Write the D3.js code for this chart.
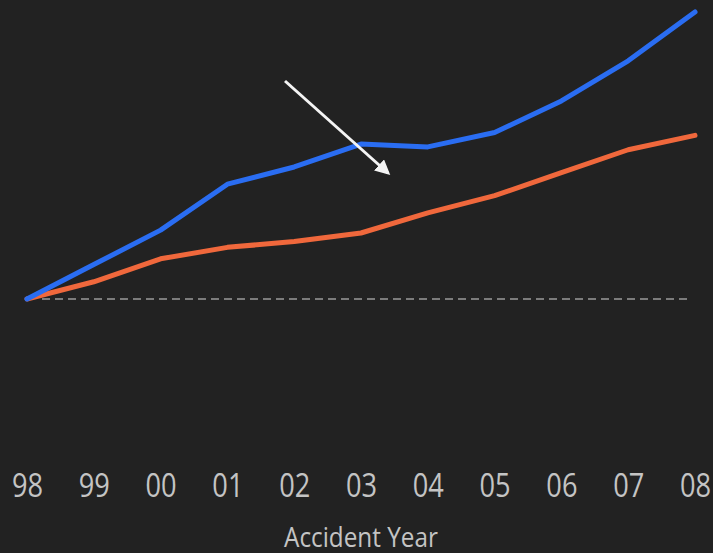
<!DOCTYPE html>
<html>
<head>
<meta charset="utf-8">
<script src="https://cdn.jsdelivr.net/npm/d3@7"></script>
<style>
  html, body { margin: 0; padding: 0; background: #222222; }
  svg { display: block; }
</style>
</head>
<body>
<svg id="chart" width="713" height="553"></svg>
<script>
// Accident years and indexed trends (1998 = 100)
const years = ["98", "99", "00", "01", "02", "03", "04", "05", "06", "07", "08"];
const blueSeries = [100, 112, 124, 140, 146, 154, 153, 158, 169, 183, 200];
const orangeSeries = [100, 106, 114, 118, 120, 123, 130, 136, 144, 152, 157];
const baselineValue = 100;

const svg = d3.select("#chart");
const W = 713, H = 553;

svg.append("rect").attr("width", W).attr("height", H).attr("fill", "#222222");

const x = d3.scalePoint().domain(years).range([27, 695]);
const y = d3.scaleLinear().domain([100, 200]).range([299, 12]);

// Title, sitting above the top edge
const title = svg.append("text")
  .attr("x", 5).attr("y", -5)
  .attr("font-family", "Open Sans, sans-serif")
  .attr("font-size", 22).attr("font-weight", 600);
title.append("tspan").attr("fill", "#f2f2f2").text("Loss per policy and ");
title.append("tspan").attr("x", 305).attr("fill", "#f0754a").text("Change");

// Baseline
svg.append("line")
  .attr("x1", x("98") + 15).attr("x2", 690)
  .attr("y1", y(baselineValue)).attr("y2", y(baselineValue))
  .attr("stroke", "#9a9a9a").attr("stroke-width", 1.5)
  .attr("stroke-dasharray", "8,5");

const line = d3.line()
  .x((d, i) => x(years[i]))
  .y(d => y(d))
  .curve(d3.curveLinear);

svg.append("path").datum(orangeSeries)
  .attr("d", line).attr("fill", "none")
  .attr("stroke", "#f0683c").attr("stroke-width", 5)
  .attr("stroke-linecap", "round").attr("stroke-linejoin", "round");

svg.append("path").datum(blueSeries)
  .attr("d", line).attr("fill", "none")
  .attr("stroke", "#2a6df2").attr("stroke-width", 5)
  .attr("stroke-linecap", "round").attr("stroke-linejoin", "round");

// Arrow annotation
svg.append("defs").append("marker")
  .attr("id", "head").attr("viewBox", "0 0 10 10")
  .attr("refX", 8).attr("refY", 5)
  .attr("markerWidth", 5).attr("markerHeight", 5)
  .attr("orient", "auto")
  .append("path").attr("d", "M0,0 L10,5 L0,10 Z").attr("fill", "#f4f4f4");

svg.append("line")
  .attr("x1", 285).attr("y1", 81).attr("x2", 388).attr("y2", 173)
  .attr("stroke", "#f4f4f4").attr("stroke-width", 3)
  .attr("marker-end", "url(#head)");

// X axis
const xAxis = d3.axisBottom(x).tickSize(0).tickPadding(0);
const gx = svg.append("g").attr("transform", "translate(0,497)").call(xAxis);
gx.select(".domain").remove();
gx.selectAll("text")
  .attr("fill", "#c4c4c4")
  .attr("font-family", "Open Sans, sans-serif")
  .attr("font-size", 32)
  .attr("y", 0)
  .attr("dy", 0)
  .attr("transform", "scale(0.85,1)");

svg.append("text")
  .attr("x", 0).attr("y", 0)
  .attr("text-anchor", "middle")
  .attr("fill", "#c4c4c4")
  .attr("font-family", "Open Sans, sans-serif")
  .attr("font-size", 27)
  .attr("transform", "translate(361,547) scale(0.9,1)")
  .text("Accident Year");
</script>
</body>
</html>
